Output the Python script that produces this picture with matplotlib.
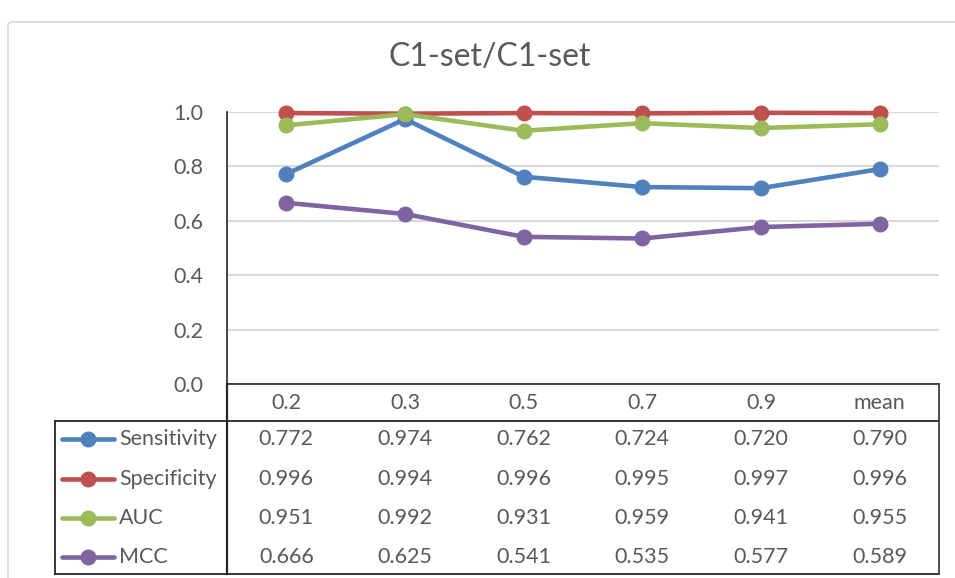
import matplotlib
matplotlib.use("Agg")
import matplotlib.pyplot as plt
from matplotlib.patches import FancyBboxPatch
from matplotlib.lines import Line2D

plt.rcParams['font.family'] = ['Lato', 'DejaVu Sans']

categories = ['0.2', '0.3', '0.5', '0.7', '0.9', 'mean']
series_names = ['Sensitivity', 'Specificity', 'AUC', 'MCC']
sensitivity = [0.772, 0.974, 0.762, 0.724, 0.720, 0.790]
specificity = [0.996, 0.994, 0.996, 0.995, 0.997, 0.996]
auc = [0.951, 0.992, 0.931, 0.959, 0.941, 0.955]
mcc = [0.666, 0.625, 0.541, 0.535, 0.577, 0.589]
y_ticks = [0.0, 0.2, 0.4, 0.6, 0.8, 1.0]
title = 'C1-set/C1-set'

colors = ['#4f81bd', '#c0504d', '#9bbb59', '#8064a2']
series = [sensitivity, specificity, auc, mcc]
text_color = '#595959'
fs = 15.5

W, H = 955, 578
fig = plt.figure(figsize=(W / 100, H / 100), dpi=100)


def fx(px):
    return px / W


def fy(py):
    return 1 - py / H


# Chart frame (extends past the right and bottom edges)
frame = FancyBboxPatch((fx(8), fy(700)), fx(1000), fy(22) - fy(700),
                       boxstyle='round,pad=0,rounding_size=0.006',
                       transform=fig.transFigure, facecolor='none',
                       edgecolor='#d9d9d9', linewidth=1.3, zorder=-5)
fig.patches.append(frame)

# Plot area
left, right, top, bottom = 227, 939, 112, 384
ax = fig.add_axes([fx(left), fy(bottom), fx(right) - fx(left), fy(top) - fy(bottom)])
ax.set_facecolor('none')
n = len(categories)
x = list(range(n))
ax.set_xlim(-0.5, n - 0.5)
ax.set_ylim(0, 1.0)

for vals, c, z in zip(series, colors, range(len(series))):
    ax.plot(x, vals, color=c, lw=3.3, marker='o', markersize=10.5,
            solid_capstyle='round', clip_on=False, zorder=3 + z)

ax.set_yticks(y_ticks)
ax.set_yticklabels([f'{v:.1f}' for v in y_ticks])
ax.set_xticks([])
ax.tick_params(axis='y', length=0, pad=17, labelsize=fs, labelcolor=text_color)
ax.grid(axis='y', color='#d9d9d9', lw=1.5, zorder=1)
ax.set_axisbelow(True)
for s in ['top', 'right']:
    ax.spines[s].set_visible(False)
ax.spines['left'].set_color('#262626')
ax.spines['bottom'].set_color('#262626')
ax.spines['left'].set_linewidth(1.2)
ax.spines['bottom'].set_linewidth(1.2)

fig.text(fx(490), fy(57), title, ha='center', va='center',
         fontsize=23, color=text_color)

# Data table below the plot
slot = (right - left) / n
col_x = [left + slot * (i + 0.5) for i in range(n)]
header_y = 403
row_ys = [439, 479, 518, 557]
tbl_left, tbl_bottom, header_bottom = 55, 574, 421


def hline(x0, x1, y, lw=1.3, color='#262626'):
    fig.add_artist(Line2D([fx(x0), fx(x1)], [fy(y), fy(y)], color=color, lw=lw,
                          transform=fig.transFigure, solid_capstyle='projecting'))


def vline(xp, y0, y1, lw=1.3, color='#262626'):
    fig.add_artist(Line2D([fx(xp), fx(xp)], [fy(y0), fy(y1)], color=color, lw=lw,
                          transform=fig.transFigure, solid_capstyle='projecting'))


hline(left, right, header_bottom)
hline(tbl_left, left, header_bottom)
hline(tbl_left, right, tbl_bottom)
vline(tbl_left, header_bottom, tbl_bottom)
vline(left, bottom, tbl_bottom, lw=1.6)
vline(right, bottom, tbl_bottom, color='#404040')

for cx, lab in zip(col_x, categories):
    fig.text(fx(cx), fy(header_y), lab, ha='center', va='center',
             fontsize=fs, color=text_color)

for ry, name, vals, c in zip(row_ys, series_names, series, colors):
    fig.add_artist(Line2D([fx(62), fx(114)], [fy(ry), fy(ry)], color=c, lw=3.3,
                          solid_capstyle='round', transform=fig.transFigure))
    fig.add_artist(Line2D([fx(88)], [fy(ry)], color=c, marker='o', markersize=10.5,
                          transform=fig.transFigure))
    fig.text(fx(119), fy(ry), name, ha='left', va='center',
             fontsize=fs, color=text_color)
    for cx, v in zip(col_x, vals):
        fig.text(fx(cx), fy(ry), f'{v:.3f}', ha='center', va='center',
                 fontsize=fs, color=text_color)

fig.savefig('out.png', dpi=100, facecolor='white')
